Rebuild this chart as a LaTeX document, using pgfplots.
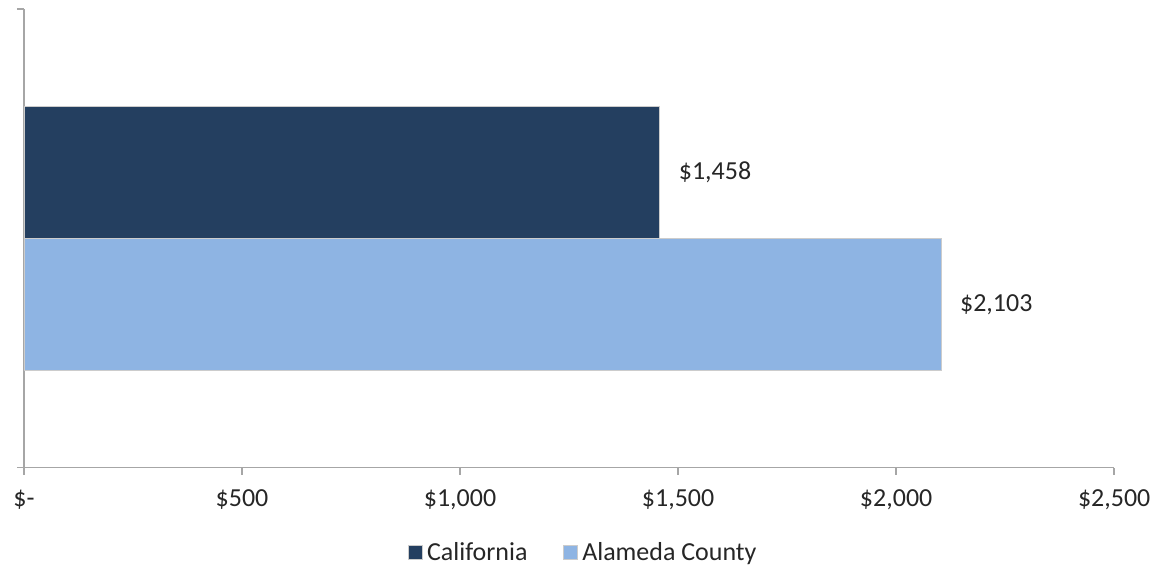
\documentclass[border=0pt]{standalone}
\usepackage{pgfplots}
\pgfplotsset{compat=1.18}
\usepackage{fontspec}
\setmainfont{Carlito}
\definecolor{navy}{HTML}{243F60}
\definecolor{lblue}{HTML}{8EB4E3}
\definecolor{axgray}{HTML}{A6A6A6}
\definecolor{txt}{HTML}{262626}
\begin{document}
\begin{tikzpicture}
\begin{axis}[
  name=ax,
  scale only axis,
  width=545.5pt, height=229.5pt,
  xmin=0, xmax=2500,
  ymin=-1.739, ymax=1.739,
  axis x line*=bottom, axis y line*=left,
  axis line style={axgray, line width=0.75pt, -},
  xtick={0,500,1000,1500,2000,2500},
  xticklabels={\$-,\$500,\$1{,}000,\$1{,}500,\$2{,}000,\$2{,}500},
  ytick={-1.739,1.739}, yticklabels={},
  tick align=outside,
  major tick length=3.5pt,
  tick style={axgray, line width=0.75pt},
  xticklabel style={font=\fontsize{13}{15}\selectfont, text=txt, yshift=-4pt},
  xbar, bar shift=0pt, bar width=66pt,
  point meta=explicit symbolic,
  nodes near coords,
  every node near coord/.append style={font=\fontsize{13}{15}\selectfont, text=txt, anchor=west, xshift=6pt},
  legend style={at={(0.514,-0.185)}, anchor=center, draw=none, legend columns=2,
    font=\fontsize{13}{15}\selectfont, text=txt,
    /tikz/every even column/.append style={column sep=16pt}},
  legend image code/.code={\fill[#1] (0pt,-3.5pt) rectangle (7pt,3.5pt);},
  clip=false,
]
\addplot[fill=navy, draw=gray!40, line width=0.4pt] coordinates {(1458,0.5) [\$1,458]};
\addlegendentry{California}
\addplot[fill=lblue, draw=gray!40, line width=0.4pt] coordinates {(2103,-0.5) [\$2,103]};
\addlegendentry{Alameda County}
\end{axis}
\path[use as bounding box] ([xshift=-12pt,yshift=-51pt]ax.south west) rectangle ([xshift=21pt,yshift=4.5pt]ax.north east);
\end{tikzpicture}
\end{document}
